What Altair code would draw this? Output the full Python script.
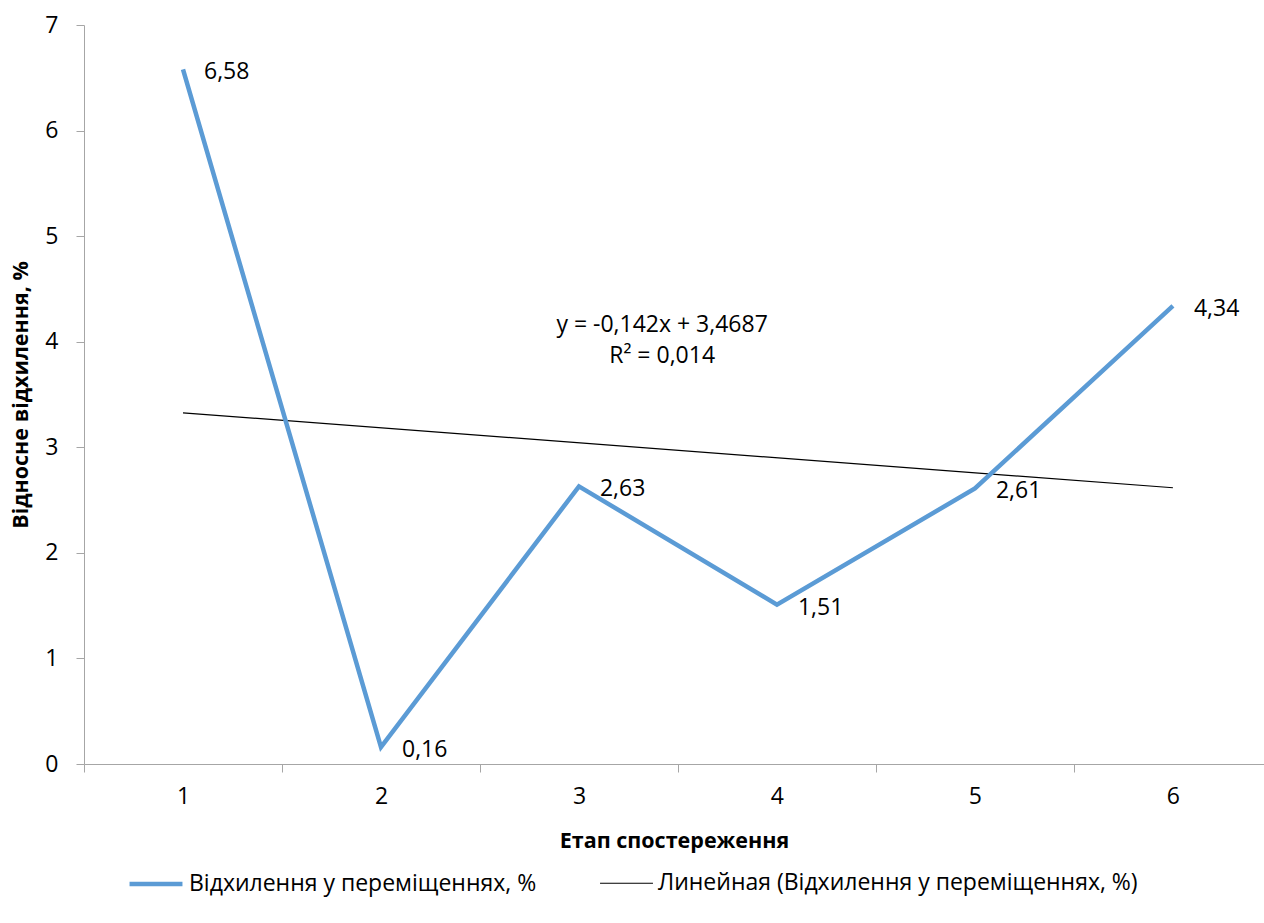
import altair as alt
import pandas as pd

# Observation stages and relative deviation in displacements (%)
stages = [1, 2, 3, 4, 5, 6]
deviation = [6.58, 0.16, 2.63, 1.51, 2.61, 4.34]
labels = ["6,58", "0,16", "2,63", "1,51", "2,61", "4,34"]

series_name = "Відхилення у переміщеннях, %"
trend_name = "Линейная (Відхилення у переміщеннях, %)"

equation_lines = ["y = -0,142x + 3,4687", "R² = 0,014"]
equation_x = [3.42, 3.42]
equation_y = [4.16, 3.86]

FONT = "Open Sans"
FS = 23

df = pd.DataFrame({"stage": stages, "value": deviation, "label": labels, "series": series_name})
eq = pd.DataFrame({"text": equation_lines, "x": equation_x, "y": equation_y})

x_scale = alt.Scale(domain=[0.5, 6.46], nice=False, zero=False)
y_scale = alt.Scale(domain=[0, 7], nice=False)

color_scale = alt.Scale(domain=[series_name, trend_name], range=["#5B9BD5", "#000000"])
width_scale = alt.Scale(domain=[series_name, trend_name], range=[4.5, 1.2])

x_axis = alt.Axis(
    title="Етап спостереження",
    values=[0.5, 1, 1.5, 2, 2.5, 3, 3.5, 4, 4.5, 5, 5.5, 6],
    labelExpr="datum.value % 1 === 0 ? datum.value : ''",
    tickOpacity={"condition": {"test": "datum.value % 1 === 0", "value": 0}, "value": 1},
    grid=False,
    tickSize=8,
    labelPadding=13,
    titlePadding=22,
)
y_axis = alt.Axis(
    title="Відносне відхилення, %",
    values=[0, 1, 2, 3, 4, 5, 6, 7],
    format="d",
    grid=False,
    tickSize=8,
    labelPadding=18,
    titlePadding=12,
)

legend = alt.Legend(
    title=None,
    orient="none",
    legendX=43,
    legendY=830,
    direction="horizontal",
    symbolType="stroke",
    symbolSize=2800,
    labelFontSize=FS,
    labelFont=FONT,
    labelColor="#000000",
    labelLimit=0,
    columnPadding=60,
    labelOffset=4,
    symbolOpacity=1,
)

base = alt.Chart(df)

line = base.mark_line().encode(
    x=alt.X("stage:Q", scale=x_scale, axis=x_axis),
    y=alt.Y("value:Q", scale=y_scale, axis=y_axis),
    color=alt.Color("series:N", scale=color_scale, legend=legend),
    strokeWidth=alt.StrokeWidth("series:N", scale=width_scale, legend=legend),
)

trend = (
    base.transform_regression("stage", "value", method="linear")
    .transform_calculate(series=f"'{trend_name}'")
    .mark_line()
    .encode(
        x=alt.X("stage:Q", scale=x_scale),
        y=alt.Y("value:Q", scale=y_scale),
        color=alt.Color("series:N", scale=color_scale, legend=legend),
        strokeWidth=alt.StrokeWidth("series:N", scale=width_scale, legend=legend),
    )
)

point_labels = base.mark_text(
    align="left", baseline="middle", dx=21, dy=3, fontSize=FS, font=FONT, color="#000000"
).encode(
    x=alt.X("stage:Q", scale=x_scale),
    y=alt.Y("value:Q", scale=y_scale),
    text="label:N",
)

equation = alt.Chart(eq).mark_text(
    align="center", baseline="middle", fontSize=FS, font=FONT, color="#000000"
).encode(
    x=alt.X("x:Q", scale=x_scale),
    y=alt.Y("y:Q", scale=y_scale),
    text="text:N",
)

chart = (
    alt.layer(trend, line, point_labels, equation)
    .properties(
        width=1180,
        height=739,
        autosize=alt.AutoSizeParams(type="none"),
        padding={"left": 84, "top": 25, "right": 0, "bottom": 159},
    )
    .configure_view(stroke=None)
    .configure_axis(
        domainColor="#A6A6A6",
        tickColor="#A6A6A6",
        domainWidth=1,
        labelFont=FONT,
        labelFontSize=FS,
        labelColor="#000000",
        titleFont=FONT,
        titleFontSize=21.5,
        titleFontWeight="bold",
        titleColor="#000000",
    )
)

chart.save("out.html", embed_options={"renderer": "svg", "actions": False})
